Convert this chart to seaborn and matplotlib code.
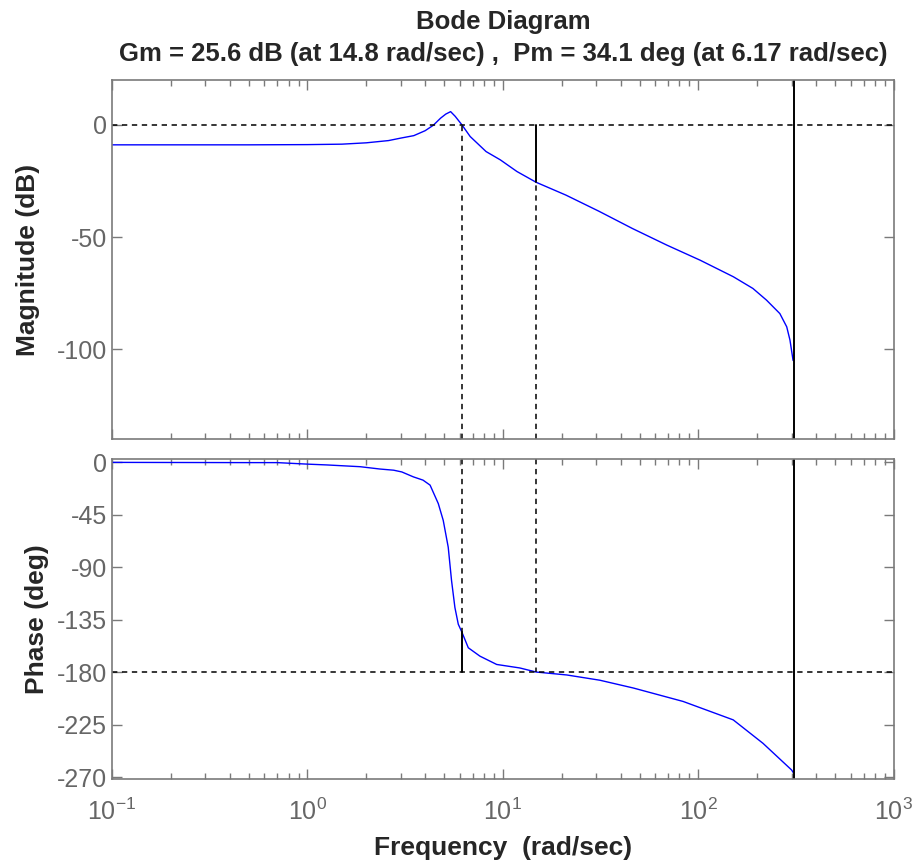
import numpy as np
import pandas as pd
import matplotlib
matplotlib.use("Agg")
import matplotlib.pyplot as plt
import matplotlib.ticker as mticker
import seaborn as sns

# values
mag_freq = [0.1, 0.5, 1.0, 1.5, 2.0, 2.6, 3.0, 3.5, 4.0, 4.4, 4.8, 5.1, 5.4, 5.7,
            6.17, 6.8, 8.2, 9.7, 11.8, 14.8, 21, 31, 46, 69, 102, 151, 190, 223,
            261, 283, 294, 305]
mag_db = [-8.9, -8.9, -8.8, -8.6, -8.0, -7.0, -5.9, -4.8, -2.6, -0.2, 3.0, 4.8, 5.9, 3.8,
          0.0, -5.2, -11.9, -15.6, -20.8, -25.6, -31.3, -38.5, -46.2, -53.6, -60.3, -67.7,
          -72.9, -78.1, -84.1, -90.0, -95.9, -105.0]

phase_freq = [0.1, 0.5, 0.7, 1.0, 1.26, 1.86, 2.35, 2.76, 3.04, 3.48, 3.9, 4.24, 4.67,
              4.95, 5.25, 5.46, 5.68, 5.91, 6.17, 6.65, 7.63, 9.29, 12.2, 14.8, 21.2,
              31.3, 46.5, 83.5, 150.7, 214, 300, 305]
phase_deg = [-0.3, -0.5, -0.5, -1.8, -2.5, -4.0, -6.0, -7.0, -8.5, -12.7, -15.5, -19.8,
             -35.6, -50.0, -73.0, -101.7, -124.7, -139.0, -145.9, -159.2, -166.4, -173.5,
             -176.5, -180.0, -182.5, -187.0, -193.7, -205.2, -221.0, -241.1, -264.0, -266.0]

mag_ticks = [0, -50, -100]
phase_ticks = [0, -45, -90, -135, -180, -225, -270]

# margins and Nyquist line
gm_db, gm_freq = 25.6, 14.8
pm_deg, pm_freq = 34.1, 6.17
nyq_freq = 310

mag_df = pd.DataFrame({"freq": mag_freq, "mag": mag_db})
ph_df = pd.DataFrame({"freq": phase_freq, "phase": phase_deg})

sns.set_style("white")
plt.rcParams["font.family"] = ["Liberation Sans", "DejaVu Sans"]
plt.rcParams["axes.unicode_minus"] = False

grey = "#7a7a7a"
fig = plt.figure(figsize=(9.14, 8.61), dpi=100)
ax1 = fig.add_axes([0.1225, 0.4901, 0.8555, 0.4170])
ax2 = fig.add_axes([0.1225, 0.0952, 0.8555, 0.3717])

sns.lineplot(data=mag_df, x="freq", y="mag", ax=ax1, color="#0000ff", lw=1.0)
sns.lineplot(data=ph_df, x="freq", y="phase", ax=ax2, color="#0000ff", lw=1.0)

dash = (0, (3.5, 3))
# magnitude reference lines
ax1.axhline(0, color="black", ls=dash, lw=1.1)
ax1.plot([pm_freq, pm_freq], [-140, 0], color="black", ls=dash, lw=1.1)
ax1.plot([gm_freq, gm_freq], [-140, -gm_db], color="black", ls=dash, lw=1.1)
ax1.plot([gm_freq, gm_freq], [-gm_db, 0], color="black", lw=1.4)
ax1.axvline(nyq_freq, color="black", lw=1.4)

# phase reference lines
ax2.axhline(-180, color="black", ls=dash, lw=1.1)
ax2.plot([pm_freq, pm_freq], [3, -180 + pm_deg], color="black", ls=dash, lw=1.1)
ax2.plot([pm_freq, pm_freq], [-180 + pm_deg, -180], color="black", lw=1.4)
ax2.plot([gm_freq, gm_freq], [3, -180], color="black", ls=dash, lw=1.1)
ax2.axvline(nyq_freq, color="black", lw=1.4)

for ax in (ax1, ax2):
    ax.set_xscale("log")
    ax.set_xlim(0.1, 1000)
    ax.xaxis.set_major_locator(mticker.LogLocator(base=10, numticks=10))
    ax.xaxis.set_minor_locator(mticker.LogLocator(base=10, subs=np.arange(2, 10), numticks=10))
    ax.tick_params(which="both", direction="in", top=True, bottom=True, left=True, right=True,
                   colors=grey, labelcolor="#666666", labelsize=18)
    ax.tick_params(which="major", length=7, width=1)
    ax.tick_params(which="minor", length=4, width=1)
    for s in ax.spines.values():
        s.set_color(grey)
        s.set_linewidth(1.2)
    ax.set_xlabel("")

ax1.set_ylim(-140, 20)
ax1.set_yticks(mag_ticks)
ax1.tick_params(labelbottom=False)
ax1.set_ylabel("Magnitude (dB)", fontsize=19, fontweight="bold", labelpad=12)

ax2.set_ylim(-271.7, 2.6)
ax2.set_yticks(phase_ticks)
ax2.set_ylabel("Phase (deg)", fontsize=19, fontweight="bold", labelpad=6)
ax2.set_xlabel("Frequency  (rad/sec)", fontsize=19, fontweight="bold", labelpad=8)
ax2.tick_params(axis="x", pad=14)

ax1.set_title("Bode Diagram\nGm = 25.6 dB (at 14.8 rad/sec) ,  Pm = 34.1 deg (at 6.17 rad/sec)",
              fontsize=18.5, fontweight="bold", linespacing=1.4, pad=14)

fig.savefig("out.png", dpi=100)
